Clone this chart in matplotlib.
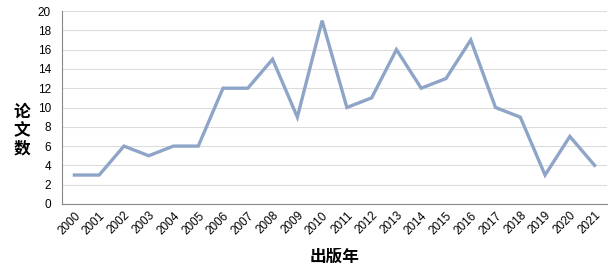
import matplotlib
matplotlib.use("Agg")
import matplotlib.pyplot as plt

plt.rcParams['font.family'] = ['Liberation Sans', 'Noto Sans CJK SC', 'DejaVu Sans']

years = [str(y) for y in range(2000, 2022)]
counts = [3, 3, 6, 5, 6, 6, 12, 12, 15, 9, 19, 10, 11, 16, 12, 13, 17, 10, 9, 3, 7, 4]

fig = plt.figure(figsize=(6.14, 2.70), dpi=100)
ax = fig.add_axes([62 / 614, 1 - 204 / 270, 545 / 614, 193 / 270])

x = list(range(len(years)))
ax.plot(x, counts, color='#8EA5C8', linewidth=2.4, solid_joinstyle='miter')

ax.set_xlim(-0.5, len(years) - 0.5)
ax.set_ylim(0, 20)
ax.set_yticks(range(0, 21, 2))
ax.set_xticks(x)
ax.set_xticklabels(years, rotation=45, ha='right', rotation_mode='anchor', fontsize=8.5)
ax.tick_params(axis='y', labelsize=8.5, length=0, pad=8)
ax.tick_params(axis='x', length=0, pad=4)

ax.grid(axis='y', color='#DCDCDC', linewidth=0.8)
ax.set_axisbelow(True)
for s in ['top', 'right']:
    ax.spines[s].set_visible(False)
ax.spines['left'].set_color('#888888')
ax.spines['bottom'].set_color('#888888')

fig.text(22 / 614, 1 - 130 / 270, '论\n文\n数', fontsize=12, fontweight='bold',
         family=['Noto Sans CJK SC'], ha='center', va='center', linespacing=1.05)
fig.text(335 / 614, 1 - 257 / 270, '出版年', fontsize=12, fontweight='bold',
         family=['Noto Sans CJK SC'], ha='center', va='center')

fig.savefig("out.png", dpi=100)
